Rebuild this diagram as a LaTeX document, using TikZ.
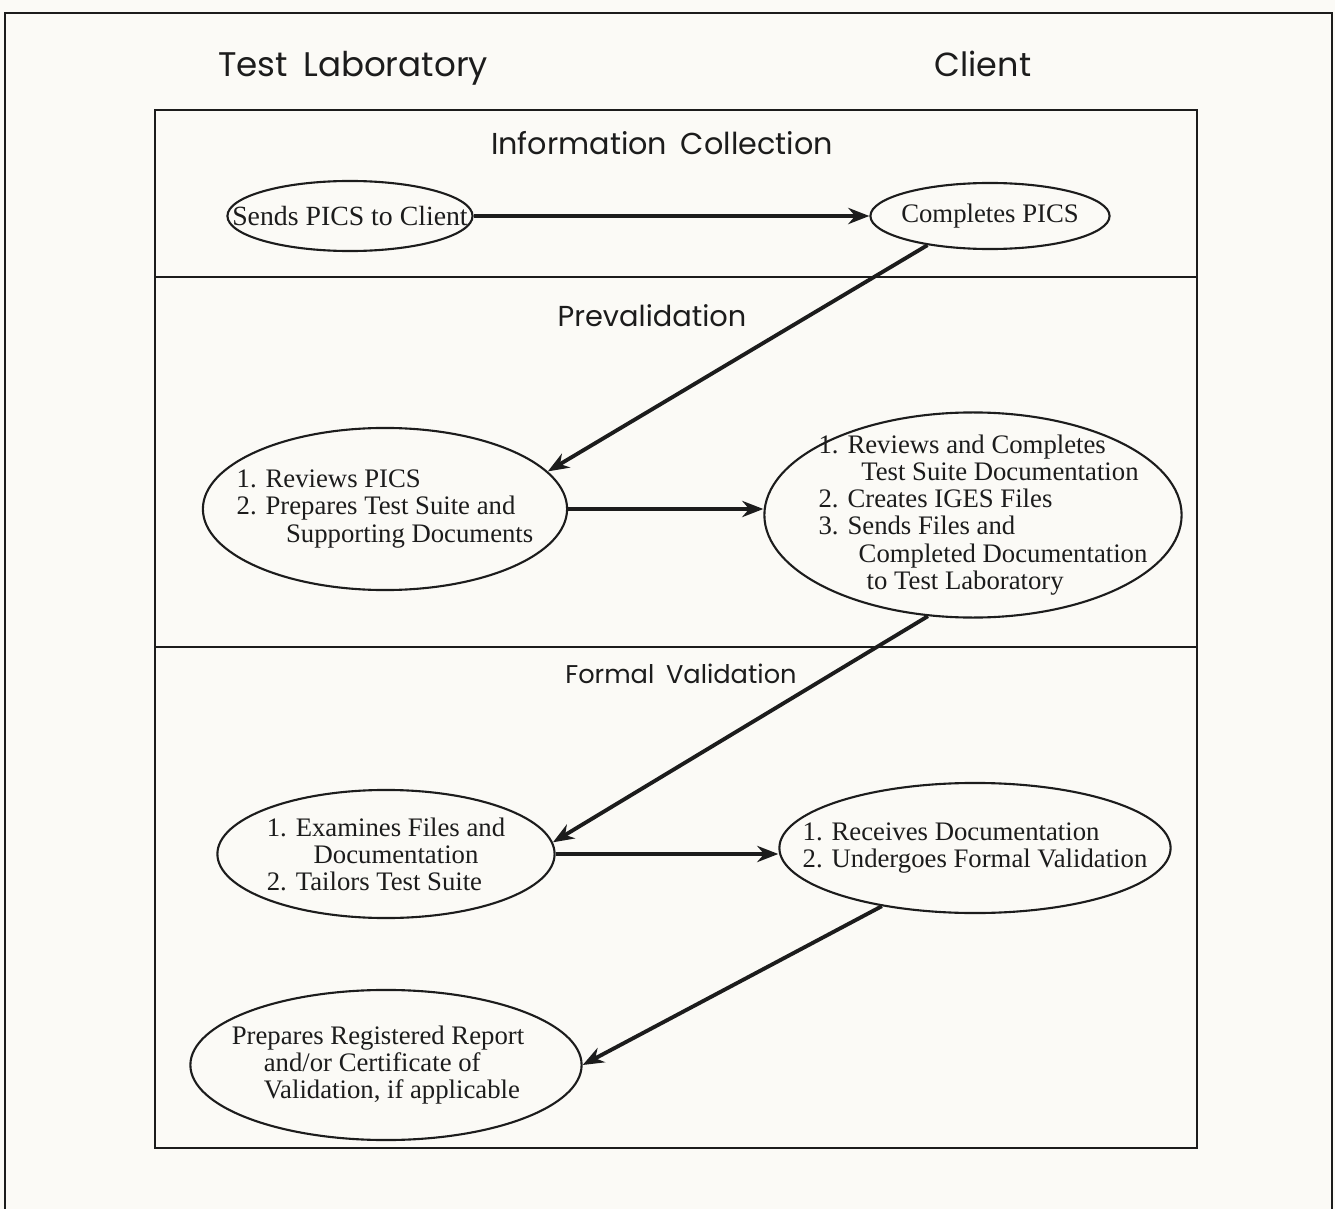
\documentclass[tikz,border=0pt]{standalone}
\usepackage{fontspec}
\usepackage{tikz}
\usetikzlibrary{shapes.geometric,arrows.meta}
\newfontfamily\headfam[WordSpace=1.7]{Poppins}
\newfontfamily\stepfam{Liberation Serif}
\newcommand{\stepfont}{\stepfam\fontsize{7.6}{7.7}\selectfont}
\definecolor{paper}{HTML}{FBFAF6}
\definecolor{ink}{HTML}{1C1C1C}
\tikzset{
  frame/.style={draw=ink, line width=0.6pt},
  heading/.style={text=ink, anchor=base, inner sep=0pt},
  phase/.style={draw=ink, ellipse, line width=0.6pt, inner sep=0pt},
  steps/.style={text=ink, align=left, font=\stepfont, inner sep=0pt},
  flow/.style={draw=ink, line width=1.1pt, -{Stealth[length=6pt,width=4.6pt]}}
}

\begin{document}
\begin{tikzpicture}[x=0.01cm, y=-0.01cm]
            \useasboundingbox[fill=paper] (0,0) rectangle (1335,1209);
            % Rahmen
            \draw[frame] (5,1209) |- (1332,13) -- (1332,1209);
            \draw[frame] (155,110) rectangle (1197,1148);
            \draw[frame] (155,277) -- (1197,277);
            \draw[frame] (155,647) -- (1197,647);

            % Spalten und Phasen
            \node[heading, font=\headfam\fontsize{9.7}{11}\selectfont] (labT) at (353,77) {Test Laboratory};
            \node[heading, font=\headfam\fontsize{9.5}{11}\selectfont] (clientT) at (983,77) {Client};
            \node[heading, font=\headfam\fontsize{8.6}{10}\selectfont] (infoT) at (662,155) {Information Collection};
            \node[heading, font=\headfam\fontsize{8.2}{10}\selectfont] (preT) at (652,327) {Prevalidation};
            \node[heading, font=\headfam\fontsize{7.3}{9}\selectfont] (formT) at (681,683) {Formal Validation};

            % Information Collection
            \node[phase, minimum width=2.45cm, minimum height=0.70cm,
                  label={[steps, font=\stepfam\fontsize{7.9}{8}\selectfont]center:{Sends PICS to Client}}] (sends) at (350,216) {};
            \node[phase, minimum width=2.39cm, minimum height=0.66cm,
                  label={[steps]center:{Completes PICS}}] (comp) at (990,216) {};

            % Prevalidation
            \node[phase, minimum width=3.64cm, minimum height=1.62cm,
                  label={[steps]center:{1. Reviews PICS\\2. Prepares Test Suite and\\\hspace*{1.85em}Supporting Documents}}] (rev) at (385,509) {};
            \node[phase, minimum width=4.17cm, minimum height=2.05cm,
                  label={[steps, xshift=0.1cm]center:{1. Reviews and Completes\\\hspace*{1.6em}Test Suite Documentation\\2. Creates IGES Files\\3. Sends Files and\\\hspace*{1.5em}Completed Documentation\\\hspace*{1.8em}to Test Laboratory}}] (suite) at (973,515) {};

            % Formal Validation
            \node[phase, minimum width=3.37cm, minimum height=1.28cm,
                  label={[steps]center:{1. Examines Files and\\\hspace*{1.75em}Documentation\\2. Tailors Test Suite}}] (exa) at (386,854) {};
            \node[phase, minimum width=3.91cm, minimum height=1.30cm,
                  label={[steps]center:{1. Receives Documentation\\2. Undergoes Formal Validation}}] (rec) at (975,848) {};
            \node[phase, minimum width=3.91cm, minimum height=1.50cm,
                  label={[steps, xshift=-0.08cm]center:{Prepares Registered Report\\\hspace*{1.2em}and/or Certificate of\\\hspace*{1.2em}Validation, if applicable}}] (prep) at (386,1065) {};

            % Pfeile
            \draw[flow] (sends) -- (comp);
            \draw[flow] (comp.205) -- (rev.13);
            \draw[flow] (rev.east) -- (rev.east -| suite.west);
            \draw[flow] (suite.246) -- (exa.4);
            \draw[flow] (exa.east) -- (exa.east -| rec.west);
            \draw[flow] (rec.212) -- (prep.east);
\end{tikzpicture}
\end{document}
